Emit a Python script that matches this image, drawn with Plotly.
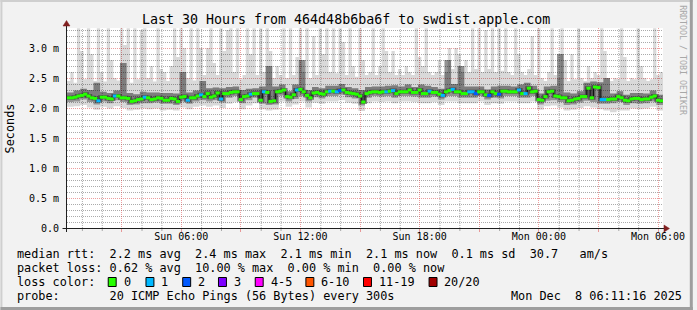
import numpy as np
import pandas as pd
import plotly.graph_objects as go

# ---------------- data ----------------
period_start = "2025-12-07 00:15"
period_end = "2025-12-08 06:15"

# median RTT per 10-minute step, ms
median_ms = [
    2.17, 2.17, 2.18, 2.20, 2.21, 2.23, 2.20, 2.17, 2.16, 2.12, 2.18, 2.18, 2.16, 2.15, 2.20, 2.20, 2.17, 2.17, 2.16, 2.11,
    2.12, 2.14, 2.15, 2.18, 2.17, 2.14, 2.15, 2.17, 2.16, 2.13, 2.13, 2.16, 2.15, 2.11, 2.18, 2.19, 2.13, 2.17, 2.17, 2.20,
    2.22, 2.19, 2.24, 2.18, 2.20, 2.25, 2.15, 2.24, 2.24, 2.26, 2.27, 2.27, 2.14, 2.19, 2.20, 2.23, 2.24, 2.24, 2.13, 2.27,
    2.26, 2.11, 2.12, 2.27, 2.28, 2.30, 2.19, 2.18, 2.22, 2.30, 2.31, 2.27, 2.21, 2.17, 2.25, 2.26, 2.24, 2.23, 2.27, 2.28,
    2.28, 2.27, 2.29, 2.30, 2.26, 2.25, 2.24, 2.23, 2.20, 2.10, 2.24, 2.26, 2.27, 2.27, 2.26, 2.27, 2.27, 2.28, 2.29, 2.24,
    2.27, 2.27, 2.27, 2.30, 2.26, 2.26, 2.30, 2.24, 2.24, 2.28, 2.26, 2.26, 2.23, 2.21, 2.27, 2.29, 2.31, 2.27, 2.27, 2.24,
    2.24, 2.27, 2.27, 2.24, 2.27, 2.27, 2.22, 2.21, 2.27, 2.24, 2.23, 2.28, 2.28, 2.27, 2.27, 2.27, 2.30, 2.24, 2.24, 2.33,
    2.27, 2.28, 2.14, 2.13, 2.19, 2.27, 2.28, 2.20, 2.19, 2.17, 2.17, 2.12, 2.13, 2.15, 2.16, 2.19, 2.19, 2.33, 2.17, 2.35,
    2.34, 2.14, 2.14, 2.14, 2.15, 2.15, 2.19, 2.17, 2.13, 2.12, 2.15, 2.16, 2.16, 2.14, 2.15, 2.15, 2.18, 2.20, 2.13, 2.12,
]

# lost pings (out of 20) per 10-minute step
loss_count = [
    0, 0, 0, 0, 0, 0, 0, 0, 0, 1, 0, 0, 0, 0, 1, 0, 0, 0, 0, 0,
    0, 0, 0, 1, 0, 0, 0, 0, 0, 0, 0, 0, 0, 0, 0, 0, 1, 0, 0, 0,
    1, 0, 0, 0, 0, 0, 1, 0, 0, 0, 0, 0, 0, 0, 0, 1, 0, 0, 0, 1,
    0, 0, 0, 0, 0, 0, 0, 0, 0, 1, 0, 0, 0, 0, 0, 0, 0, 0, 0, 1,
    0, 1, 2, 0, 0, 0, 0, 0, 0, 0, 0, 0, 0, 0, 0, 0, 1, 0, 1, 0,
    0, 0, 0, 0, 0, 0, 0, 0, 0, 1, 0, 0, 0, 1, 0, 0, 1, 0, 0, 0,
    0, 1, 1, 2, 0, 0, 0, 2, 0, 0, 2, 0, 0, 0, 0, 0, 1, 0, 1, 0,
    0, 0, 0, 0, 0, 0, 0, 0, 0, 0, 0, 0, 0, 0, 0, 0, 0, 0, 0, 0,
    0, 1, 1, 0, 0, 0, 0, 0, 0, 0, 0, 0, 0, 0, 0, 0, 0, 0, 0, 0,
]

# slowest ping per 10-minute step, ms (3.33 = reaches the top of the chart)
max_ms = [
    2.45, 2.60, 2.42, 3.33, 2.95, 2.48, 3.33, 2.90, 2.45, 3.33, 2.60, 2.44, 3.33, 2.80, 2.50, 2.46, 3.33, 3.05, 3.33, 2.42,
    3.33, 2.48, 3.30, 3.33, 2.50, 2.70, 2.44, 3.33, 2.65, 2.60, 2.45, 2.70, 3.33, 2.85, 3.33, 3.00, 2.50, 3.33, 2.46, 3.33,
    3.00, 2.55, 3.00, 3.33, 2.75, 2.55, 3.33, 2.95, 3.30, 3.33, 2.60, 3.33, 2.48, 2.55, 3.33, 2.90, 3.33, 2.55, 3.33, 2.60,
    3.33, 2.95, 2.50, 2.70, 2.55, 3.33, 2.50, 3.33, 2.55, 2.85, 3.33, 2.60, 3.33, 2.50, 3.20, 2.55, 3.33, 2.90, 3.33, 2.60,
    3.33, 2.58, 3.33, 3.10, 2.55, 3.33, 2.70, 2.52, 3.33, 2.80, 2.55, 2.60, 3.33, 2.55, 2.70, 3.33, 2.95, 2.60, 2.95, 2.55,
    2.65, 2.55, 2.70, 2.60, 2.55, 3.33, 2.85, 2.70, 3.33, 2.60, 2.55, 2.60, 2.80, 2.55, 2.60, 3.00, 2.65, 3.00, 2.90, 2.60,
    2.80, 2.60, 3.33, 2.65, 3.33, 2.60, 3.30, 2.65, 3.33, 2.60, 3.33, 2.62, 3.33, 2.60, 2.55, 3.33, 2.90, 2.60, 2.55, 2.65,
    3.20, 2.55, 3.33, 2.50, 2.45, 2.60, 3.33, 2.55, 2.50, 3.33, 2.80, 2.45, 2.90, 2.48, 3.33, 2.50, 2.45, 2.70, 2.50, 2.60,
    2.55, 3.33, 2.95, 2.50, 2.45, 2.50, 2.48, 3.33, 2.85, 2.45, 2.50, 2.48, 3.33, 2.70, 2.50, 2.45, 2.48, 3.33, 2.55, 2.60,
]

# smoke envelope per 20-minute step, ms
smoke_hi = [
    2.26, 2.29, 2.32, 2.30, 2.42, 2.27, 2.25, 2.29, 2.75, 2.25,
    2.23, 2.27, 2.26, 2.26, 2.25, 2.25, 2.24, 2.60, 2.26, 2.29,
    2.45, 2.33, 2.34, 2.33, 2.35, 2.36, 2.30, 2.32, 2.33, 2.36,
    2.70, 2.36, 2.39, 2.28, 2.39, 2.80, 2.30, 2.35, 2.33, 2.37,
    2.37, 2.40, 2.35, 2.33, 2.30, 2.35, 2.36, 2.36, 2.37, 2.38,
    2.36, 2.39, 2.35, 2.39, 2.37, 2.35, 2.32, 2.80, 2.40, 2.70,
    2.36, 2.36, 2.36, 2.31, 2.36, 2.37, 2.37, 2.36, 2.39, 2.42,
    2.37, 2.24, 2.36, 2.37, 2.90, 2.26, 2.24, 2.28, 2.42, 2.44,
    2.43, 2.50, 2.24, 2.28, 2.22, 2.25, 2.25, 2.24, 2.29, 2.22,
]
smoke_lo = [
    2.10, 2.11, 2.14, 2.10, 2.06, 2.11, 2.08, 2.13, 2.10, 2.05,
    2.06, 2.08, 2.08, 2.09, 2.07, 2.07, 2.05, 2.11, 2.07, 2.11,
    2.13, 2.11, 2.13, 2.09, 2.17, 2.20, 2.08, 2.13, 2.17, 2.07,
    2.05, 2.06, 2.21, 2.11, 2.15, 2.20, 2.11, 2.18, 2.16, 2.20,
    2.20, 2.22, 2.18, 2.16, 2.04, 2.17, 2.20, 2.19, 2.20, 2.17,
    2.20, 2.20, 2.19, 2.17, 2.17, 2.19, 2.14, 2.20, 2.20, 2.17,
    2.17, 2.17, 2.20, 2.14, 2.17, 2.16, 2.20, 2.20, 2.17, 2.17,
    2.20, 2.06, 2.12, 2.13, 2.10, 2.05, 2.06, 2.09, 2.12, 2.10,
    2.07, 2.07, 2.08, 2.10, 2.05, 2.08, 2.07, 2.08, 2.11, 2.05,
]
smoke_min = [
    2.02, 2.03, 2.05, 2.01, 1.97, 2.02, 1.99, 2.03, 2.00, 1.96,
    1.97, 1.99, 1.98, 1.99, 1.96, 1.97, 1.96, 2.01, 1.98, 2.02,
    2.04, 2.02, 2.04, 2.00, 2.07, 2.10, 1.98, 2.04, 2.08, 1.98,
    1.96, 1.97, 2.11, 2.02, 2.06, 2.11, 2.01, 2.09, 2.07, 2.11,
    2.11, 2.13, 2.09, 2.07, 1.95, 2.08, 2.11, 2.10, 2.11, 2.08,
    2.11, 2.11, 2.10, 2.08, 2.08, 2.10, 2.05, 2.11, 2.11, 2.08,
    2.08, 2.08, 2.11, 2.05, 2.08, 2.07, 2.11, 2.11, 2.08, 2.08,
    2.11, 1.97, 2.03, 2.04, 2.01, 1.96, 1.97, 2.00, 2.03, 2.01,
    1.98, 1.96, 1.93, 1.96, 1.96, 1.99, 1.98, 1.99, 2.02, 1.96,
]

# tick labels: formatted label -> text shown in the reference
y_label_alias = {"0.5": "0.5 m", "1.0": "1.0 m", "1.5": "1.5 m", "2.0": "2.0 m", "2.5": "2.5 m", "3.0": "3.0 m"}
x_label_alias = {"Sun 03:00": " ", "Sun 09:00": " ", "Sun 15:00": " ", "Sun 21:00": " ", "Mon 03:00": " "}

loss_labels = ["0", "1", "2", "3", "4-5", "6-10", "11-19", "20/20"]
loss_colors = ["#26ff00", "#00b8ff", "#0059ff", "#7e00ff", "#ff00ff", "#ff5500", "#ff0000", "#a10000"]
loss_upper = [0, 1, 2, 3, 5, 10, 19, 20]

title_text = "Last 30 Hours from 464d48b6ba6f to swdist.apple.com"
stats_rtt = "median rtt:  2.2 ms avg  2.4 ms max  2.1 ms min  2.1 ms now  0.1 ms sd  30.7   am/s"
stats_loss = "packet loss: 0.62 % avg  10.00 % max  0.00 % min  0.00 % now"
probe_text = "probe:       20 ICMP Echo Pings (56 Bytes) every 300s"
stamp_text = "Mon Dec  8 06:11:16 2025"

# ---------------- geometry helpers ----------------
W, H = 697, 310
L, T, PW, PH = 67, 28, 600, 200
PX_PER_MS = 60.0
Y_TOP = PH / PX_PER_MS
HOUR_MS = 3600000


def fx(p):
    return (p - L) / PW


def fy(p):
    return (T + PH - p) / PH


MONO = "DejaVu Sans Mono"

x10 = pd.date_range(period_start, periods=len(median_ms) + 1, freq="10min")
x20 = pd.date_range(period_start, periods=len(smoke_hi) + 1, freq="20min")
c10 = x10[:-1] + pd.Timedelta(minutes=5)


def stepy(v):
    return list(v) + [v[-1]]


def loss_color(c):
    for up, col in zip(loss_upper, loss_colors):
        if c <= up:
            return col
    return loss_colors[-1]


fig = go.Figure()
common = dict(mode="lines", hoverinfo="skip", showlegend=False)

# light spikes: median -> slowest ping (translucent so the grid shows through)
fig.add_trace(go.Scatter(x=x10, y=stepy(median_ms), line=dict(width=0, shape="hv"), **common))
fig.add_trace(go.Scatter(x=x10, y=stepy(max_ms), line=dict(width=0, shape="hv"),
                         fill="tonexty", fillcolor="rgba(0,0,0,0.15)", **common))
# outer smoke band
fig.add_trace(go.Scatter(x=x20, y=stepy(smoke_min), line=dict(width=0, shape="hv"), **common))
fig.add_trace(go.Scatter(x=x20, y=stepy(smoke_hi), line=dict(width=0, shape="hv"),
                         fill="tonexty", fillcolor="rgba(0,0,0,0.15)", **common))
# inner smoke band
fig.add_trace(go.Scatter(x=x20, y=stepy(smoke_lo), line=dict(width=0, shape="hv"), **common))
fig.add_trace(go.Scatter(x=x20, y=stepy(smoke_hi), line=dict(width=0, shape="hv"),
                         fill="tonexty", fillcolor="rgba(0,0,0,0.32)", **common))
# dark core around the median
fig.add_trace(go.Scatter(x=x10, y=stepy(median_ms), line=dict(width=4, shape="hv", color="rgba(40,40,40,0.55)"), **common))
fig.add_trace(go.Scatter(x=x10, y=stepy(median_ms), line=dict(width=1, shape="hv", color="#101010"), **common))
# median coloured by loss
fig.add_trace(go.Scatter(
    x=c10, y=median_ms, mode="markers", hoverinfo="skip", showlegend=False,
    marker=dict(symbol="line-ew", size=3.0,
                line=dict(width=3, color=[loss_color(c) for c in loss_count])),
))

GRID = "rgba(143,143,143,0.75)"
MGRID = "rgba(222,79,79,0.55)"
tickfont = dict(family=MONO, size=10, color="#000000")

fig.update_layout(
    width=W, height=H, autosize=False,
    margin=dict(l=L, r=W - L - PW, t=T, b=H - T - PH, pad=0),
    paper_bgcolor="#f2f2f2", plot_bgcolor="#ffffff",
    showlegend=False,
    xaxis=dict(
        type="date", range=[period_start, period_end], fixedrange=True,
        tickmode="linear", tick0="2025-12-07 00:00", dtick=3 * HOUR_MS,
        tickformat="%a %H:%M", labelalias=x_label_alias,
        showgrid=True, gridcolor=MGRID, griddash="1px,1px", gridwidth=1,
        ticks="outside", ticklen=3, tickcolor=MGRID, tickwidth=1, ticklabelstandoff=-4,
        tickfont=tickfont, showline=False, zeroline=False,
    ),
    yaxis=dict(
        range=[0, Y_TOP], fixedrange=True,
        tickmode="linear", tick0=0, dtick=0.5, tickformat=".1f", labelalias=y_label_alias,
        showgrid=True, gridcolor=MGRID, griddash="1px,1px", gridwidth=1,
        ticks="", ticklabelstandoff=7, tickfont=tickfont,
        showline=False, zeroline=False,
    ),
)

shapes = []
# minor grid (hourly / every 0.1 ms), offset half a pixel so the 1px dotted lines stay crisp
half_px_time = pd.Timedelta(seconds=90)
for t in pd.date_range("2025-12-07 01:00", "2025-12-08 06:00", freq="1h"):
    if t.hour % 3 == 0:
        continue
    tx = t + half_px_time
    shapes.append(dict(type="line", xref="x", yref="paper", x0=tx, x1=tx, y0=0, y1=1, layer="below",
                       line=dict(color=GRID, width=1, dash="1px,1px")))
    shapes.append(dict(type="line", xref="x", yref="paper", x0=tx, x1=tx, y0=fy(229), y1=fy(231),
                       line=dict(color=GRID, width=1)))
for v in range(1, 34):
    if v % 5 == 0:
        continue
    vy = v / 10 - 0.5 / PX_PER_MS
    shapes.append(dict(type="line", xref="paper", yref="y", x0=0, x1=1, y0=vy, y1=vy, layer="below",
                       line=dict(color=GRID, width=1, dash="1px,1px")))

# frame shading
shapes.append(dict(type="rect", xref="paper", yref="paper", x0=fx(0), x1=fx(W), y0=fy(0), y1=fy(2),
                   fillcolor="#cfcfcf", line=dict(width=0)))
shapes.append(dict(type="rect", xref="paper", yref="paper", x0=fx(0), x1=fx(2), y0=fy(0), y1=fy(H),
                   fillcolor="#cfcfcf", line=dict(width=0)))
shapes.append(dict(type="rect", xref="paper", yref="paper", x0=fx(0), x1=fx(W), y0=fy(H - 3), y1=fy(H),
                   fillcolor="#9e9e9e", line=dict(width=0)))
shapes.append(dict(type="rect", xref="paper", yref="paper", x0=fx(W - 3), x1=fx(W), y0=fy(0), y1=fy(H),
                   fillcolor="#9e9e9e", line=dict(width=0)))
# axes with arrows
AX = "#1f1f1f"
ARROW = "#801f1f"
shapes.append(dict(type="line", xref="paper", yref="paper", x0=fx(62.5), x1=fx(669), y0=fy(228.5), y1=fy(228.5),
                   line=dict(color=AX, width=1)))
shapes.append(dict(type="line", xref="paper", yref="paper", x0=fx(66.5), x1=fx(66.5), y0=fy(232), y1=fy(25),
                   line=dict(color=AX, width=1)))
shapes.append(dict(type="path", xref="paper", yref="paper",
                   path=f"M {fx(668)} {fy(225)} L {fx(673.5)} {fy(228.5)} L {fx(668)} {fy(232)} Z",
                   fillcolor=ARROW, line=dict(color=ARROW, width=0.5)))
shapes.append(dict(type="path", xref="paper", yref="paper",
                   path=f"M {fx(63)} {fy(26)} L {fx(66.5)} {fy(20.5)} L {fx(70)} {fy(26)} Z",
                   fillcolor=ARROW, line=dict(color=ARROW, width=0.5)))

annotations = []


def text(x, y, s, size=11.83, anchor="left", color="#000000", angle=0):
    annotations.append(dict(
        xref="paper", yref="paper", x=fx(x), y=fy(y), text=s.replace(" ", "\u00a0"),
        showarrow=False, xanchor=anchor, yanchor="middle", borderpad=0, textangle=angle,
        font=dict(family=MONO, size=size, color=color),
    ))


text(348, 19.5, title_text, size=13.3, anchor="center")
text(10, 128, "Seconds", size=11.83, anchor="center", angle=-90)
text(687, 60, "RRDTOOL / TOBI OETIKER", size=8.3, anchor="center", color="#a8a8a8", angle=90)
text(16, 254, stats_rtt)
text(16, 268, stats_loss)
text(16, 282, "loss color:")
box_x = [108, 146, 183, 219, 256, 307, 365, 431]
for bx, lab, col in zip(box_x, loss_labels, loss_colors):
    shapes.append(dict(type="rect", xref="paper", yref="paper",
                       x0=fx(bx + 0.5), x1=fx(bx + 8.5), y0=fy(277.5), y1=fy(286.5),
                       fillcolor=col, line=dict(color="#000000", width=1)))
    text(bx + 15, 282, lab)
text(16, 296, probe_text)
text(513, 296, stamp_text)

fig.update_layout(shapes=shapes, annotations=annotations)
fig.write_html("out.html", config={"displayModeBar": False})
